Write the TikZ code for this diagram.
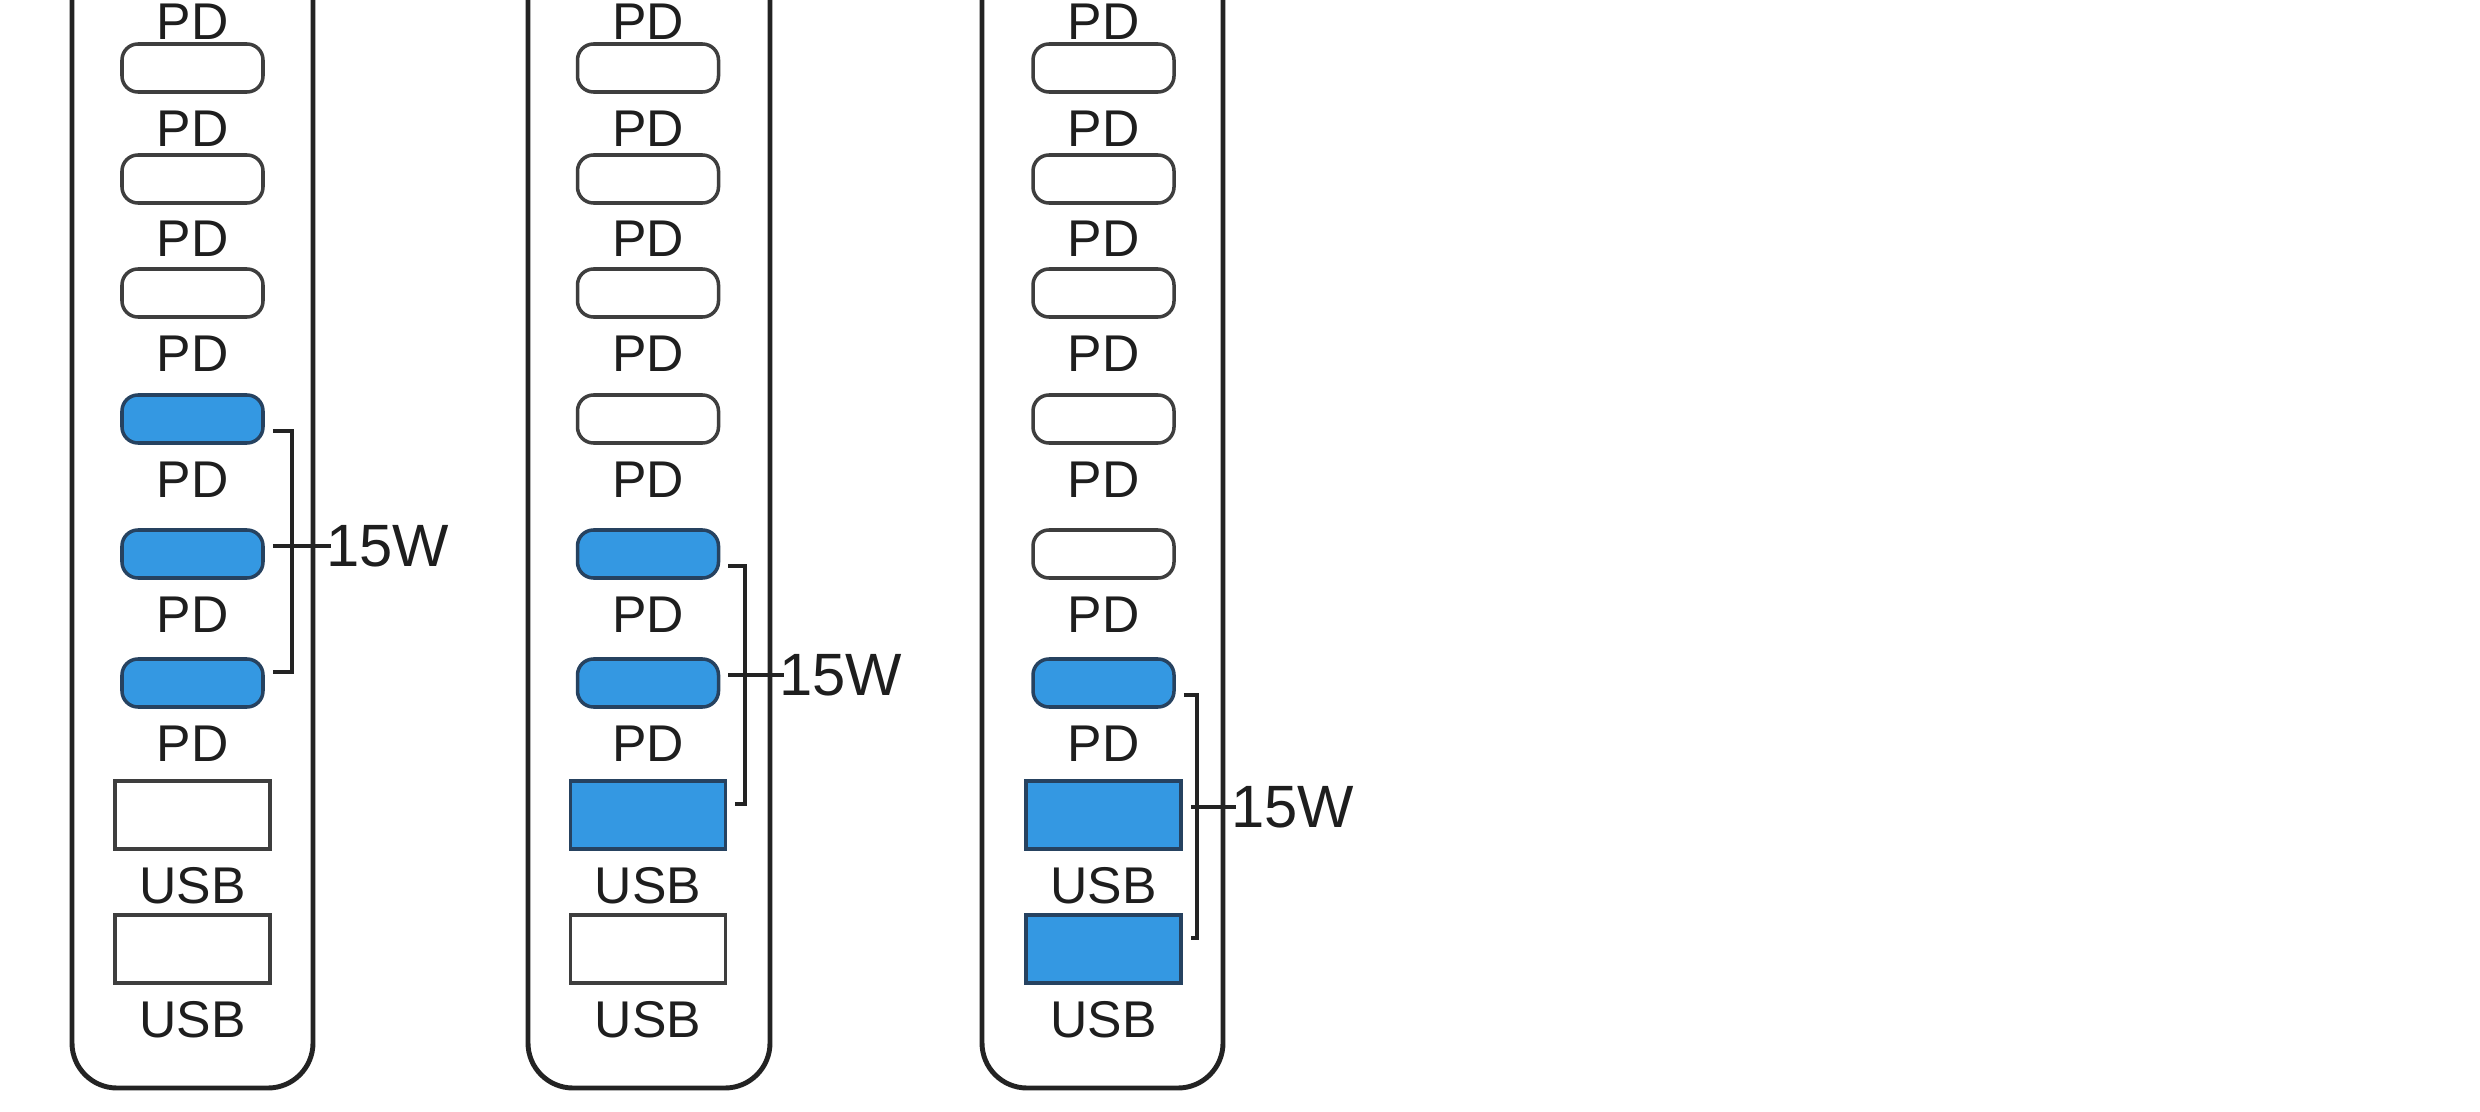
\documentclass[tikz,border=0pt]{standalone}
\usepackage{fontspec}
\setmainfont{Liberation Sans}
\usetikzlibrary{positioning}
\definecolor{stripline}{RGB}{35,35,35}
\definecolor{portline}{RGB}{62,62,62}
\definecolor{portblue}{RGB}{52,152,226}
\definecolor{blueedge}{RGB}{38,66,96}
\definecolor{inkdark}{RGB}{30,30,30}

\begin{document}
\begin{tikzpicture}[
  strip/.style={draw=stripline, line width=1.4pt, rounded corners=0.45cm, fill=white},
  tag/.style={font=\fontsize{14.7}{16}\selectfont, text=inkdark, inner sep=0pt},
  pdport/.style={draw=portline, line width=1pt, fill=white, rounded corners=0.16cm,
                 minimum width=1.41cm, minimum height=0.48cm, inner sep=0pt,
                 label={[tag]below:PD}},
  usbport/.style={draw=portline, line width=1pt, fill=white,
                  minimum width=1.55cm, minimum height=0.68cm, inner sep=0pt,
                  label={[tag]below:USB}},
  live/.style={fill=portblue, draw=blueedge},
  brace/.style={stripline, line width=1.1pt},
  watt/.style={font=\fontsize{17}{20}\selectfont, text=inkdark, inner sep=0pt},
  label distance=0.16cm,
]
  \useasboundingbox (0,0) rectangle (24.80,-11.12);
  \clip (0,0) rectangle (24.80,-11.12);
  \fill[white] (0,0) rectangle (24.80,-11.12);

  % ── strip 1: three PD ports on 15W ──
  \draw[strip] (0.72,1.0) rectangle (3.13,-10.88);
  \node[tag, anchor=base] (a0) at (1.925,-0.40) {PD};
  \node[pdport] (a1) at (1.925,-0.68) {};
  \node[pdport] (a2) at (1.925,-1.79) {};
  \node[pdport] (a3) at (1.925,-2.93) {};
  \node[pdport, live] (a4) at (1.925,-4.19) {};
  \node[pdport, live] (a5) at (1.925,-5.54) {};
  \node[pdport, live] (a6) at (1.925,-6.83) {};
  \node[usbport] (a7) at (1.925,-8.15) {};
  \node[usbport] (a8) at (1.925,-9.49) {};

  % ── strip 2: two PD + one USB on 15W ──
  \draw[strip] (5.28,1.0) rectangle (7.70,-10.88);
  \node[tag, anchor=base] (b0) at (6.48,-0.40) {PD};
  \node[pdport] (b1) at (6.48,-0.68) {};
  \node[pdport] (b2) at (6.48,-1.79) {};
  \node[pdport] (b3) at (6.48,-2.93) {};
  \node[pdport] (b4) at (6.48,-4.19) {};
  \node[pdport, live] (b5) at (6.48,-5.54) {};
  \node[pdport, live] (b6) at (6.48,-6.83) {};
  \node[usbport, live] (b7) at (6.48,-8.15) {};
  \node[usbport] (b8) at (6.48,-9.49) {};

  % ── strip 3: one PD + two USB on 15W ──
  \draw[strip] (9.82,1.0) rectangle (12.23,-10.88);
  \node[tag, anchor=base] (c0) at (11.035,-0.40) {PD};
  \node[pdport] (c1) at (11.035,-0.68) {};
  \node[pdport] (c2) at (11.035,-1.79) {};
  \node[pdport] (c3) at (11.035,-2.93) {};
  \node[pdport] (c4) at (11.035,-4.19) {};
  \node[pdport] (c5) at (11.035,-5.54) {};
  \node[pdport, live] (c6) at (11.035,-6.83) {};
  \node[usbport, live] (c7) at (11.035,-8.15) {};
  \node[usbport, live] (c8) at (11.035,-9.49) {};

  % ── shared 15W brackets ──
  \coordinate (va) at (2.92,0);
  \coordinate (vb) at (7.45,0);
  \coordinate (vc) at (11.97,0);
  \foreach \s/\t/\m/\e in {a/4/5/6, b/5/6/7, c/6/7/8} {
    \draw[brace] ([shift={(0.08,-0.12)}]\s\t.east) -| ([yshift=0.11cm]v\s |- \s\e.east)
                 -- ([shift={(0.08,0.11)}]\s\e.east);
    \node[watt, anchor=west, xshift=0.335cm, yshift=0.08cm] (w\s) at (v\s |- \s\m.east) {15W};
    \draw[brace] ([shift={(0.08,0.08)}]\s\m.east) -- ([xshift=0.05cm]w\s.west);
  }
\end{tikzpicture}
\end{document}
